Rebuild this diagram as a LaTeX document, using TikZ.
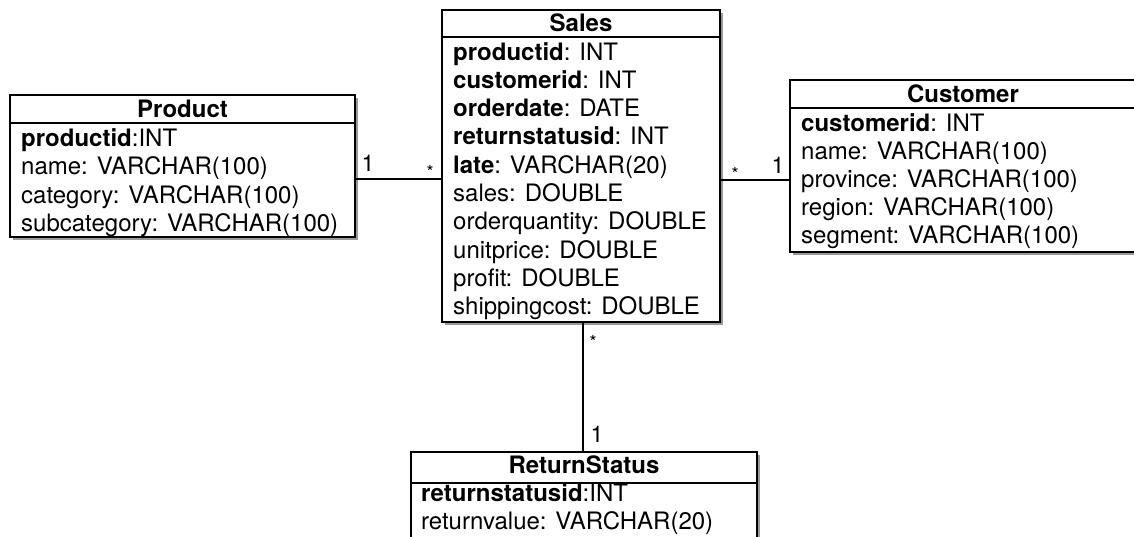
\documentclass[tikz,border=0pt]{standalone}
\usepackage{fontspec}
\setmainfont{TeX Gyre Heros}
\usetikzlibrary{shadows}
\begin{document}
\begin{tikzpicture}[x=1pt,y=-1pt,
  box/.style={draw=black, line width=1.7pt, fill=white, inner sep=0pt,
    drop shadow={shadow xshift=2.5pt, shadow yshift=-2.5pt, opacity=0.4, fill=black}},
  sep/.style={line width=1.7pt},
  row/.style={anchor=base west, inner sep=0pt, font=\fontsize{24}{28}\selectfont},
  ttl/.style={anchor=base, inner sep=0pt, font=\fontsize{24}{28}\selectfont\bfseries},
  conn/.style={line width=1.4pt},
  mult/.style={inner sep=0pt, font=\fontsize{23}{26}\selectfont},
  star/.style={inner sep=0pt, font=\fontsize{18}{20}\selectfont}]
\clip (0,0) rectangle (1134,536);
\fill[white] (0,0) rectangle (1134,536);

% Product
\node[box, minimum width=345pt, minimum height=142pt] (product) at (182.5,166) {};
\draw[sep] (10,123) -- (355,123);
\node[ttl] (pt) at (182.5,117) {Product};
\node[row] (p1) at (21,146.5) {\textbf{productid}:INT};
\node[row] (p2) at (21,174.8) {name: VARCHAR(100)};
\node[row] (p3) at (21,203.1) {category: VARCHAR(100)};
\node[row] (p4) at (21,231.4) {subcategory: VARCHAR(100)};

% Sales
\node[box, minimum width=278pt, minimum height=312pt] (sales) at (581,166) {};
\draw[sep] (442,37) -- (720,37);
\node[ttl] (st) at (581,31.5) {Sales};
\node[row] (s1) at (453,60) {\textbf{productid}: INT};
\node[row] (s2) at (453,88.3) {\textbf{customerid}: INT};
\node[row] (s3) at (453,116.6) {\textbf{orderdate}: DATE};
\node[row] (s4) at (453,144.9) {\textbf{returnstatusid}: INT};
\node[row] (s5) at (453,173.2) {\textbf{late}: VARCHAR(20)};
\node[row] (s6) at (453,201.5) {sales: DOUBLE};
\node[row] (s7) at (453,229.8) {orderquantity: DOUBLE};
\node[row] (s8) at (453,258.1) {unitprice: DOUBLE};
\node[row] (s9) at (453,286.4) {profit: DOUBLE};
\node[row] (s10) at (453,314.7) {shippingcost: DOUBLE};

% Customer
\node[box, minimum width=346pt, minimum height=172pt] (customer) at (963,166) {};
\draw[sep] (790,108) -- (1136,108);
\node[ttl] (ct) at (963,102) {Customer};
\node[row] (c1) at (801,131) {\textbf{customerid}: INT};
\node[row] (c2) at (801,159) {name: VARCHAR(100)};
\node[row] (c3) at (801,187) {province: VARCHAR(100)};
\node[row] (c4) at (801,215) {region: VARCHAR(100)};
\node[row] (c5) at (801,243) {segment: VARCHAR(100)};

% ReturnStatus
\node[box, minimum width=346pt, minimum height=110pt] (returnstatus) at (584,507) {};
\draw[sep] (411,483) -- (757,483);
\node[ttl] (rt) at (584,473.5) {ReturnStatus};
\node[row] (r1) at (421,501.5) {\textbf{returnstatusid}:INT};
\node[row] (r2) at (421,529.5) {returnvalue: VARCHAR(20)};

% connectors
\coordinate (ps) at (product.east |- 0,179);
\draw[conn] (ps) -- (ps -| sales.west);
\coordinate (sc) at (sales.east |- 0,180);
\draw[conn] (sc) -- (sc -| customer.west);
\coordinate (sr) at (sales.south -| 583,0);
\draw[conn] (sr) -- (sr |- returnstatus.north);

% multiplicities
\node[mult] (m1) at (368,163) {1};
\node[star] (m2) at (430,172) {*};
\node[star] (m3) at (735,174) {*};
\node[mult] (m4) at (778,165) {1};
\node[star] (m5) at (593,342) {*};
\node[mult] (m6) at (597,434) {1};
\end{tikzpicture}
\end{document}
